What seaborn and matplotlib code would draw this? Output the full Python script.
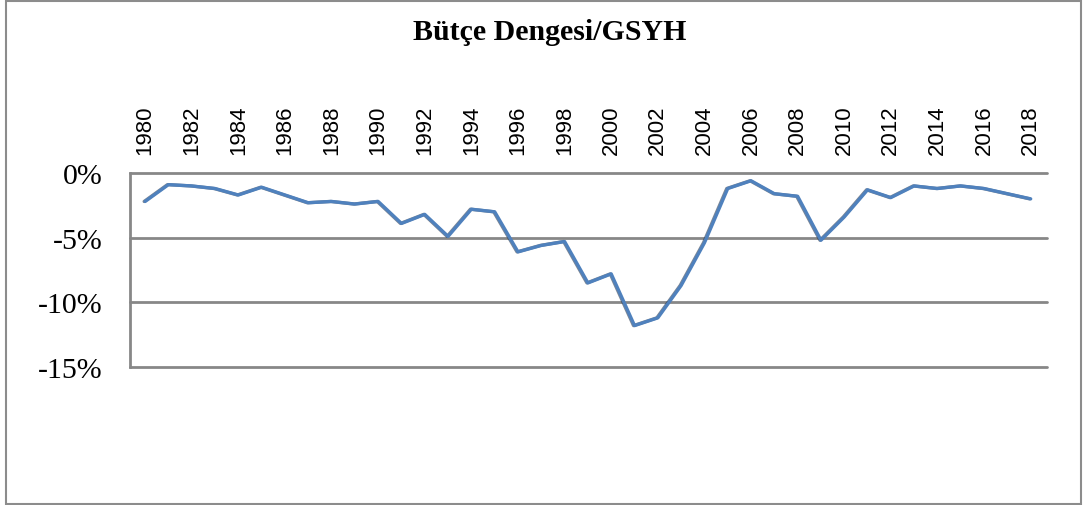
import matplotlib
matplotlib.use("Agg")
import matplotlib.pyplot as plt
import matplotlib.patheffects as pe
from matplotlib.patches import Rectangle
from matplotlib.ticker import FixedLocator, FuncFormatter
import seaborn as sns
import pandas as pd

# Budget balance as a share of GDP (%), 1980-2018
years = list(range(1980, 2019))
balance = [
    -2.2, -0.9, -1.0, -1.2, -1.7, -1.1, -1.7, -2.3, -2.2, -2.4,
    -2.2, -3.9, -3.2, -4.9, -2.8, -3.0, -6.1, -5.6, -5.3, -8.5,
    -7.8, -11.8, -11.2, -8.7, -5.4, -1.2, -0.6, -1.6, -1.8, -5.2,
    -3.4, -1.3, -1.9, -1.0, -1.2, -1.0, -1.2, -1.6, -2.0,
]
year_ticks = list(range(1980, 2019, 2))
y_ticks = [0, -5, -10, -15]
title = "Bütçe Dengesi/GSYH"

df = pd.DataFrame({"Yıl": years, "Denge": balance})

sns.set_style("white")
plt.rcParams["axes.unicode_minus"] = False
plt.rcParams["text.color"] = "black"
plt.rcParams["xtick.color"] = "black"
plt.rcParams["ytick.color"] = "black"

fig = plt.figure(figsize=(10.83, 5.06), dpi=100)
ax = fig.add_axes([130 / 1083, 1 - 368 / 506, (1047 - 130) / 1083, (368 - 174) / 506])

grid_color = "#878787"
for v in y_ticks:
    ax.axhline(v, color=grid_color, lw=2.0, clip_on=False, zorder=1)

sns.lineplot(data=df, x="Yıl", y="Denge", ax=ax, color="#4F81BD", lw=2.4, zorder=3,
             path_effects=[pe.SimpleLineShadow(offset=(-0.7, 0.0), shadow_color="#24364f", alpha=0.6),
                           pe.Normal()])

ax.set_xlim(1979.35, 2018.7)
ax.set_ylim(-15, 0)
ax.set_xlabel("")
ax.set_ylabel("")

for s in ["top", "right", "bottom"]:
    ax.spines[s].set_visible(False)
ax.spines["left"].set_color(grid_color)
ax.spines["left"].set_linewidth(2.0)

ax.xaxis.tick_top()
ax.xaxis.set_major_locator(FixedLocator(year_ticks))
ax.set_xticklabels([str(y) for y in year_ticks], rotation=90,
                   fontfamily="Liberation Sans", fontsize=16, color="black")
ax.tick_params(axis="x", length=0, pad=14, labelcolor="black")

ax.yaxis.set_major_locator(FixedLocator(y_ticks))
ax.yaxis.set_major_formatter(FuncFormatter(lambda v, p: f"{v:.0f}%"))
for lbl in ax.get_yticklabels():
    lbl.set_fontfamily("Liberation Serif")
    lbl.set_fontsize(21.5)
ax.tick_params(axis="y", length=0, pad=20, labelcolor="black")

fig.text(550 / 1083, 1 - 32 / 506, title, ha="center", va="center", color="black",
         fontfamily="Liberation Serif", fontweight="bold", fontsize=21.5)

# chart frame
fig.patches.append(Rectangle((6 / 1083, 1 / 506), 1075 / 1083, 503 / 506,
                             transform=fig.transFigure, fill=False,
                             edgecolor="#8c8c8c", lw=1.5))

fig.savefig("out.png", dpi=100)
